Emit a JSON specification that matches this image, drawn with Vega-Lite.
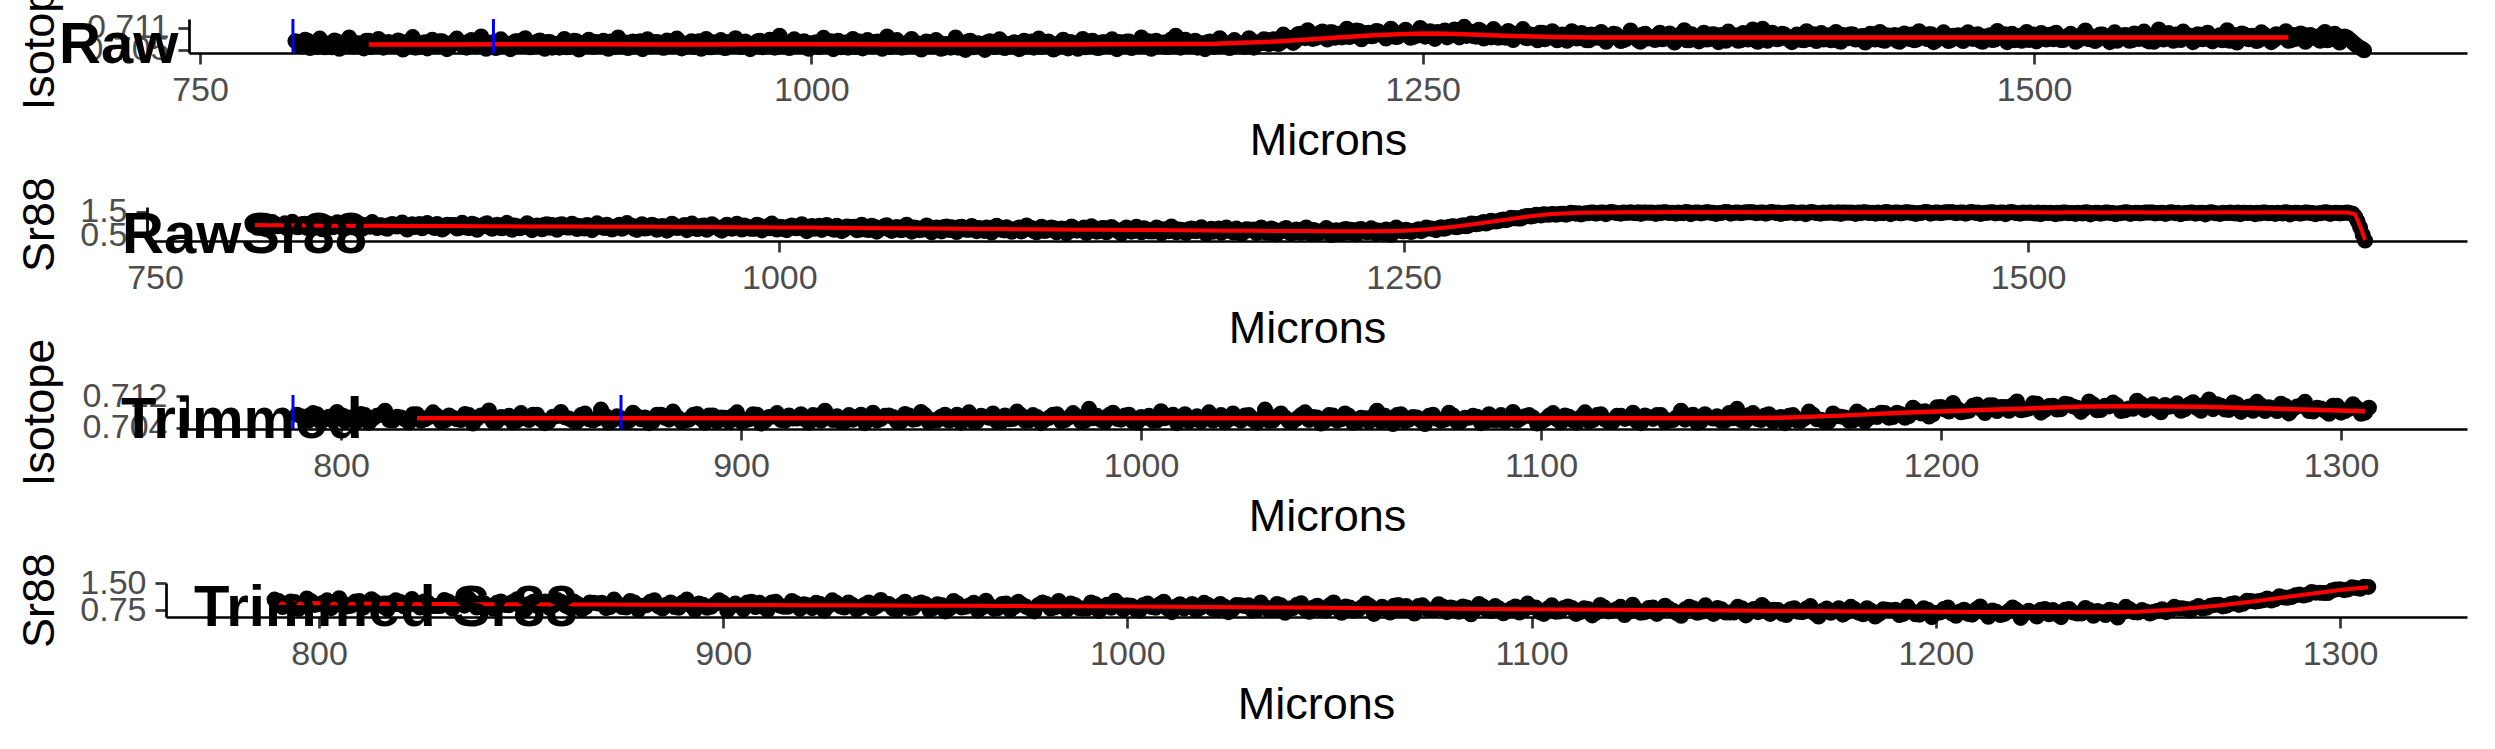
{
"$schema": "https://vega.github.io/schema/vega-lite/v6.json",
"background": "white",
"padding": {"left": 16, "top": -38, "right": 5, "bottom": 5},
"spacing": 154,
"bounds": "flush",
"datasets": {
"pts": [
{"m":789,"iso":0.7073,"sr":1.04},{"m":791,"iso":0.7059,"sr":0.83},{"m":793,"iso":0.7077,"sr":0.99},{"m":795,"iso":0.7054,"sr":0.78},{"m":797,"iso":0.7068,"sr":1.07},{"m":799,"iso":0.7080,"sr":0.89},{"m":801,"iso":0.7056,"sr":0.95},{"m":803,"iso":0.7063,"sr":0.80},{"m":805,"iso":0.7075,"sr":1.08},{"m":807,"iso":0.7052,"sr":0.85},{"m":809,"iso":0.7070,"sr":0.99},{"m":811,"iso":0.7083,"sr":0.82},{"m":813,"iso":0.7058,"sr":1.05},{"m":815,"iso":0.7066,"sr":0.90},{"m":817,"iso":0.7053,"sr":0.77},{"m":819,"iso":0.7074,"sr":1.02},{"m":821,"iso":0.7061,"sr":0.85},{"m":823,"iso":0.7079,"sr":1.06},{"m":825,"iso":0.7055,"sr":0.82},{"m":827,"iso":0.7071,"sr":0.95},
{"m":829,"iso":0.7061,"sr":0.86},{"m":831,"iso":0.7075,"sr":1.03},{"m":833,"iso":0.7050,"sr":0.79},{"m":835,"iso":0.7071,"sr":0.96},{"m":837,"iso":0.7084,"sr":1.07},{"m":839,"iso":0.7056,"sr":0.82},{"m":841,"iso":0.7066,"sr":0.93},{"m":843,"iso":0.7053,"sr":0.79},{"m":845,"iso":0.7077,"sr":0.99},{"m":847,"iso":0.7059,"sr":0.88},{"m":849,"iso":0.7073,"sr":1.05},{"m":851,"iso":0.7051,"sr":0.76},{"m":853,"iso":0.7068,"sr":0.98},{"m":855,"iso":0.7080,"sr":0.91},{"m":857,"iso":0.7063,"sr":0.81},{"m":859,"iso":0.7055,"sr":1.03},{"m":861,"iso":0.7076,"sr":0.87},{"m":863,"iso":0.7058,"sr":0.99},{"m":865,"iso":0.7086,"sr":0.76},{"m":867,"iso":0.7052,"sr":0.96},
{"m":869,"iso":0.7069,"sr":0.93},{"m":871,"iso":0.7054,"sr":0.80},{"m":873,"iso":0.7078,"sr":1.04},{"m":875,"iso":0.7061,"sr":0.83},{"m":877,"iso":0.7051,"sr":1.00},{"m":879,"iso":0.7073,"sr":0.75},{"m":881,"iso":0.7065,"sr":0.88},{"m":883,"iso":0.7081,"sr":1.02},{"m":885,"iso":0.7056,"sr":0.79},{"m":887,"iso":0.7060,"sr":0.96},{"m":889,"iso":0.7075,"sr":0.81},{"m":891,"iso":0.7052,"sr":1.04},{"m":893,"iso":0.7071,"sr":0.75},{"m":895,"iso":0.7066,"sr":0.90},{"m":897,"iso":0.7055,"sr":0.84},{"m":899,"iso":0.7079,"sr":1.02},{"m":901,"iso":0.7058,"sr":0.73},{"m":903,"iso":0.7074,"sr":0.93},{"m":905,"iso":0.7050,"sr":0.77},{"m":907,"iso":0.7067,"sr":0.98},
{"m":909,"iso":0.7077,"sr":0.95},{"m":911,"iso":0.7057,"sr":0.75},{"m":913,"iso":0.7063,"sr":0.98},{"m":915,"iso":0.7074,"sr":0.84},{"m":917,"iso":0.7052,"sr":1.00},{"m":919,"iso":0.7070,"sr":0.78},{"m":921,"iso":0.7083,"sr":0.88},{"m":923,"iso":0.7059,"sr":0.95},{"m":925,"iso":0.7054,"sr":0.73},{"m":927,"iso":0.7072,"sr":1.02},{"m":929,"iso":0.7067,"sr":0.85},{"m":931,"iso":0.7051,"sr":0.96},{"m":933,"iso":0.7078,"sr":0.76},{"m":935,"iso":0.7062,"sr":0.90},{"m":937,"iso":0.7071,"sr":0.79},{"m":939,"iso":0.7055,"sr":1.03},{"m":941,"iso":0.7075,"sr":0.92},{"m":943,"iso":0.7060,"sr":0.74},{"m":945,"iso":0.7080,"sr":0.98},{"m":947,"iso":0.7053,"sr":0.81},
{"m":949,"iso":0.7058,"sr":0.96},{"m":951,"iso":0.7073,"sr":0.75},{"m":953,"iso":0.7066,"sr":0.91},{"m":955,"iso":0.7052,"sr":0.71},{"m":957,"iso":0.7079,"sr":1.00},{"m":959,"iso":0.7056,"sr":0.82},{"m":961,"iso":0.7068,"sr":0.88},{"m":963,"iso":0.7076,"sr":0.73},{"m":965,"iso":0.7054,"sr":1.01},{"m":967,"iso":0.7061,"sr":0.78},{"m":969,"iso":0.7081,"sr":0.92},{"m":971,"iso":0.7057,"sr":0.75},{"m":973,"iso":0.7072,"sr":0.98},{"m":975,"iso":0.7051,"sr":0.84},{"m":977,"iso":0.7065,"sr":0.71},{"m":979,"iso":0.7074,"sr":0.96},{"m":981,"iso":0.7059,"sr":0.79},{"m":983,"iso":0.7077,"sr":1.00},{"m":985,"iso":0.7055,"sr":0.76},{"m":987,"iso":0.7088,"sr":0.89},
{"m":989,"iso":0.7070,"sr":0.79},{"m":991,"iso":0.7054,"sr":0.96},{"m":993,"iso":0.7078,"sr":0.72},{"m":995,"iso":0.7060,"sr":0.90},{"m":997,"iso":0.7073,"sr":1.01},{"m":999,"iso":0.7052,"sr":0.76},{"m":1001,"iso":0.7065,"sr":0.87},{"m":1003,"iso":0.7057,"sr":0.73},{"m":1005,"iso":0.7082,"sr":0.93},{"m":1007,"iso":0.7069,"sr":0.81},{"m":1009,"iso":0.7051,"sr":0.98},{"m":1011,"iso":0.7074,"sr":0.69},{"m":1013,"iso":0.7062,"sr":0.91},{"m":1015,"iso":0.7055,"sr":0.84},{"m":1017,"iso":0.7079,"sr":0.74},{"m":1019,"iso":0.7067,"sr":0.95},{"m":1021,"iso":0.7053,"sr":0.79},{"m":1023,"iso":0.7076,"sr":0.92},{"m":1025,"iso":0.7058,"sr":0.69},{"m":1027,"iso":0.7072,"sr":0.89},
{"m":1029,"iso":0.7052,"sr":0.86},{"m":1031,"iso":0.7086,"sr":0.73},{"m":1033,"iso":0.7058,"sr":0.96},{"m":1035,"iso":0.7076,"sr":0.75},{"m":1037,"iso":0.7055,"sr":0.92},{"m":1039,"iso":0.7063,"sr":0.67},{"m":1041,"iso":0.7079,"sr":0.80},{"m":1043,"iso":0.7067,"sr":0.94},{"m":1045,"iso":0.7050,"sr":0.70},{"m":1047,"iso":0.7072,"sr":0.87},{"m":1049,"iso":0.7058,"sr":0.73},{"m":1051,"iso":0.7076,"sr":0.96},{"m":1053,"iso":0.7052,"sr":0.67},{"m":1055,"iso":0.7065,"sr":0.82},{"m":1057,"iso":0.7055,"sr":0.75},{"m":1059,"iso":0.7083,"sr":0.93},{"m":1061,"iso":0.7070,"sr":0.64},{"m":1063,"iso":0.7049,"sr":0.84},{"m":1065,"iso":0.7074,"sr":0.68},{"m":1067,"iso":0.7060,"sr":0.89},
{"m":1069,"iso":0.7066,"sr":0.86},{"m":1071,"iso":0.7049,"sr":0.65},{"m":1073,"iso":0.7073,"sr":0.88},{"m":1075,"iso":0.7057,"sr":0.75},{"m":1077,"iso":0.7078,"sr":0.91},{"m":1079,"iso":0.7054,"sr":0.69},{"m":1081,"iso":0.7065,"sr":0.79},{"m":1083,"iso":0.7070,"sr":0.85},{"m":1085,"iso":0.7051,"sr":0.63},{"m":1087,"iso":0.7074,"sr":0.92},{"m":1089,"iso":0.7059,"sr":0.75},{"m":1091,"iso":0.7055,"sr":0.86},{"m":1093,"iso":0.7080,"sr":0.66},{"m":1095,"iso":0.7064,"sr":0.79},{"m":1097,"iso":0.7072,"sr":0.68},{"m":1099,"iso":0.7050,"sr":0.93},{"m":1101,"iso":0.7060,"sr":0.82},{"m":1103,"iso":0.7077,"sr":0.64},{"m":1105,"iso":0.7053,"sr":0.88},{"m":1107,"iso":0.7068,"sr":0.71},
{"m":1109,"iso":0.7052,"sr":0.85},{"m":1111,"iso":0.7079,"sr":0.64},{"m":1113,"iso":0.7059,"sr":0.80},{"m":1115,"iso":0.7074,"sr":0.60},{"m":1117,"iso":0.7054,"sr":0.89},{"m":1119,"iso":0.7070,"sr":0.71},{"m":1121,"iso":0.7062,"sr":0.77},{"m":1123,"iso":0.7078,"sr":0.61},{"m":1125,"iso":0.7051,"sr":0.90},{"m":1127,"iso":0.7067,"sr":0.67},{"m":1129,"iso":0.7072,"sr":0.81},{"m":1131,"iso":0.7054,"sr":0.64},{"m":1133,"iso":0.7059,"sr":0.87},{"m":1135,"iso":0.7083,"sr":0.73},{"m":1137,"iso":0.7070,"sr":0.59},{"m":1139,"iso":0.7052,"sr":0.84},{"m":1141,"iso":0.7074,"sr":0.67},{"m":1143,"iso":0.7063,"sr":0.88},{"m":1145,"iso":0.7057,"sr":0.64},{"m":1147,"iso":0.7077,"sr":0.77},
{"m":1149,"iso":0.7088,"sr":0.68},{"m":1151,"iso":0.7055,"sr":0.84},{"m":1153,"iso":0.7077,"sr":0.60},{"m":1155,"iso":0.7059,"sr":0.78},{"m":1157,"iso":0.7074,"sr":0.89},{"m":1159,"iso":0.7065,"sr":0.64},{"m":1161,"iso":0.7051,"sr":0.75},{"m":1163,"iso":0.7072,"sr":0.61},{"m":1165,"iso":0.7057,"sr":0.80},{"m":1167,"iso":0.7081,"sr":0.69},{"m":1169,"iso":0.7061,"sr":0.86},{"m":1171,"iso":0.7054,"sr":0.57},{"m":1173,"iso":0.7076,"sr":0.79},{"m":1175,"iso":0.7068,"sr":0.72},{"m":1177,"iso":0.7057,"sr":0.62},{"m":1179,"iso":0.7081,"sr":0.84},{"m":1181,"iso":0.7055,"sr":0.67},{"m":1183,"iso":0.7070,"sr":0.80},{"m":1185,"iso":0.7078,"sr":0.57},{"m":1187,"iso":0.7065,"sr":0.77},
{"m":1189,"iso":0.7078,"sr":0.74},{"m":1191,"iso":0.7065,"sr":0.61},{"m":1193,"iso":0.7091,"sr":0.85},{"m":1195,"iso":0.7076,"sr":0.63},{"m":1197,"iso":0.7068,"sr":0.80},{"m":1199,"iso":0.7092,"sr":0.55},{"m":1201,"iso":0.7086,"sr":0.68},{"m":1203,"iso":0.7103,"sr":0.82},{"m":1205,"iso":0.7079,"sr":0.59},{"m":1207,"iso":0.7083,"sr":0.76},{"m":1209,"iso":0.7099,"sr":0.62},{"m":1211,"iso":0.7077,"sr":0.85},{"m":1213,"iso":0.7097,"sr":0.56},{"m":1215,"iso":0.7093,"sr":0.70},{"m":1217,"iso":0.7083,"sr":0.64},{"m":1219,"iso":0.7107,"sr":0.82},{"m":1221,"iso":0.7086,"sr":0.53},{"m":1223,"iso":0.7102,"sr":0.73},{"m":1225,"iso":0.7078,"sr":0.57},{"m":1227,"iso":0.7095,"sr":0.78},
{"m":1229,"iso":0.7086,"sr":0.75},{"m":1231,"iso":0.7101,"sr":0.55},{"m":1233,"iso":0.7094,"sr":0.78},{"m":1235,"iso":0.7080,"sr":0.65},{"m":1237,"iso":0.7107,"sr":0.81},{"m":1239,"iso":0.7084,"sr":0.59},{"m":1241,"iso":0.7096,"sr":0.69},{"m":1243,"iso":0.7104,"sr":0.76},{"m":1245,"iso":0.7082,"sr":0.54},{"m":1247,"iso":0.7089,"sr":0.84},{"m":1249,"iso":0.7109,"sr":0.69},{"m":1251,"iso":0.7085,"sr":0.75},{"m":1253,"iso":0.7100,"sr":0.65},{"m":1255,"iso":0.7079,"sr":0.73},{"m":1257,"iso":0.7093,"sr":0.69},{"m":1259,"iso":0.7102,"sr":0.84},{"m":1261,"iso":0.7087,"sr":0.80},{"m":1263,"iso":0.7105,"sr":0.73},{"m":1265,"iso":0.7083,"sr":0.86},{"m":1267,"iso":0.7112,"sr":0.81},
{"m":1269,"iso":0.7100,"sr":0.89},{"m":1271,"iso":0.7086,"sr":0.85},{"m":1273,"iso":0.7104,"sr":0.92},{"m":1275,"iso":0.7080,"sr":0.89},{"m":1277,"iso":0.7094,"sr":1.01},{"m":1279,"iso":0.7106,"sr":0.98},{"m":1281,"iso":0.7082,"sr":1.02},{"m":1283,"iso":0.7089,"sr":1.01},{"m":1285,"iso":0.7101,"sr":1.13},{"m":1287,"iso":0.7076,"sr":1.09},{"m":1289,"iso":0.7094,"sr":1.16},{"m":1291,"iso":0.7106,"sr":1.15},{"m":1293,"iso":0.7081,"sr":1.25},{"m":1295,"iso":0.7089,"sr":1.23},{"m":1297,"iso":0.7075,"sr":1.22},{"m":1299,"iso":0.7096,"sr":1.32},{"m":1301,"iso":0.7082,"sr":1.30},{"m":1303,"iso":0.7100,"sr":1.38},{"m":1305,"iso":0.7075,"sr":1.34},{"m":1307,"iso":0.7091,"sr":1.39},
{"m":1309,"iso":0.7074,"sr":1.40},{"m":1311,"iso":0.7100,"sr":1.37},{"m":1313,"iso":0.7080,"sr":1.42},{"m":1315,"iso":0.7095,"sr":1.38},{"m":1317,"iso":0.7075,"sr":1.46},{"m":1319,"iso":0.7091,"sr":1.42},{"m":1321,"iso":0.7082,"sr":1.39},{"m":1323,"iso":0.7098,"sr":1.44},{"m":1325,"iso":0.7071,"sr":1.47},{"m":1327,"iso":0.7087,"sr":1.42},{"m":1329,"iso":0.7092,"sr":1.47},{"m":1331,"iso":0.7073,"sr":1.40},{"m":1333,"iso":0.7078,"sr":1.49},{"m":1335,"iso":0.7102,"sr":1.45},{"m":1337,"iso":0.7089,"sr":1.42},{"m":1339,"iso":0.7071,"sr":1.46},{"m":1341,"iso":0.7093,"sr":1.48},{"m":1343,"iso":0.7082,"sr":1.44},{"m":1345,"iso":0.7076,"sr":1.41},{"m":1347,"iso":0.7096,"sr":1.47},
{"m":1349,"iso":0.7080,"sr":1.47},{"m":1351,"iso":0.7094,"sr":1.41},{"m":1353,"iso":0.7069,"sr":1.44},{"m":1355,"iso":0.7090,"sr":1.48},{"m":1357,"iso":0.7103,"sr":1.46},{"m":1359,"iso":0.7075,"sr":1.42},{"m":1361,"iso":0.7085,"sr":1.45},{"m":1363,"iso":0.7072,"sr":1.49},{"m":1365,"iso":0.7096,"sr":1.40},{"m":1367,"iso":0.7078,"sr":1.47},{"m":1369,"iso":0.7092,"sr":1.43},{"m":1371,"iso":0.7070,"sr":1.48},{"m":1373,"iso":0.7087,"sr":1.46},{"m":1375,"iso":0.7099,"sr":1.41},{"m":1377,"iso":0.7082,"sr":1.45},{"m":1379,"iso":0.7074,"sr":1.49},{"m":1381,"iso":0.7095,"sr":1.42},{"m":1383,"iso":0.7077,"sr":1.47},{"m":1385,"iso":0.7105,"sr":1.44},{"m":1387,"iso":0.7071,"sr":1.48},
{"m":1389,"iso":0.7107,"sr":1.48},{"m":1391,"iso":0.7074,"sr":1.44},{"m":1393,"iso":0.7096,"sr":1.47},{"m":1395,"iso":0.7078,"sr":1.42},{"m":1397,"iso":0.7093,"sr":1.49},{"m":1399,"iso":0.7084,"sr":1.45},{"m":1401,"iso":0.7070,"sr":1.41},{"m":1403,"iso":0.7091,"sr":1.46},{"m":1405,"iso":0.7076,"sr":1.48},{"m":1407,"iso":0.7100,"sr":1.43},{"m":1409,"iso":0.7080,"sr":1.47},{"m":1411,"iso":0.7073,"sr":1.40},{"m":1413,"iso":0.7095,"sr":1.49},{"m":1415,"iso":0.7087,"sr":1.45},{"m":1417,"iso":0.7075,"sr":1.42},{"m":1419,"iso":0.7098,"sr":1.46},{"m":1421,"iso":0.7071,"sr":1.48},{"m":1423,"iso":0.7085,"sr":1.44},{"m":1425,"iso":0.7092,"sr":1.41},{"m":1427,"iso":0.7077,"sr":1.47},
{"m":1429,"iso":0.7086,"sr":1.47},{"m":1431,"iso":0.7069,"sr":1.41},{"m":1433,"iso":0.7093,"sr":1.44},{"m":1435,"iso":0.7077,"sr":1.48},{"m":1437,"iso":0.7098,"sr":1.46},{"m":1439,"iso":0.7074,"sr":1.42},{"m":1441,"iso":0.7085,"sr":1.45},{"m":1443,"iso":0.7090,"sr":1.49},{"m":1445,"iso":0.7071,"sr":1.40},{"m":1447,"iso":0.7094,"sr":1.47},{"m":1449,"iso":0.7079,"sr":1.43},{"m":1451,"iso":0.7075,"sr":1.48},{"m":1453,"iso":0.7100,"sr":1.46},{"m":1455,"iso":0.7084,"sr":1.41},{"m":1457,"iso":0.7092,"sr":1.45},{"m":1459,"iso":0.7070,"sr":1.49},{"m":1461,"iso":0.7080,"sr":1.42},{"m":1463,"iso":0.7097,"sr":1.47},{"m":1465,"iso":0.7073,"sr":1.44},{"m":1467,"iso":0.7088,"sr":1.48},
{"m":1469,"iso":0.7089,"sr":1.48},{"m":1471,"iso":0.7073,"sr":1.44},{"m":1473,"iso":0.7097,"sr":1.47},{"m":1475,"iso":0.7079,"sr":1.42},{"m":1477,"iso":0.7092,"sr":1.49},{"m":1479,"iso":0.7071,"sr":1.45},{"m":1481,"iso":0.7084,"sr":1.41},{"m":1483,"iso":0.7076,"sr":1.46},{"m":1485,"iso":0.7101,"sr":1.48},{"m":1487,"iso":0.7088,"sr":1.43},{"m":1489,"iso":0.7070,"sr":1.47},{"m":1491,"iso":0.7093,"sr":1.40},{"m":1493,"iso":0.7081,"sr":1.49},{"m":1495,"iso":0.7074,"sr":1.45},{"m":1497,"iso":0.7098,"sr":1.42},{"m":1499,"iso":0.7086,"sr":1.46},{"m":1501,"iso":0.7072,"sr":1.47},{"m":1503,"iso":0.7095,"sr":1.43},{"m":1505,"iso":0.7077,"sr":1.40},{"m":1507,"iso":0.7091,"sr":1.46},
{"m":1509,"iso":0.7096,"sr":1.46},{"m":1511,"iso":0.7076,"sr":1.40},{"m":1513,"iso":0.7082,"sr":1.43},{"m":1515,"iso":0.7093,"sr":1.47},{"m":1517,"iso":0.7071,"sr":1.45},{"m":1519,"iso":0.7089,"sr":1.41},{"m":1521,"iso":0.7102,"sr":1.44},{"m":1523,"iso":0.7078,"sr":1.48},{"m":1525,"iso":0.7073,"sr":1.39},{"m":1527,"iso":0.7091,"sr":1.46},{"m":1529,"iso":0.7086,"sr":1.42},{"m":1531,"iso":0.7070,"sr":1.47},{"m":1533,"iso":0.7097,"sr":1.45},{"m":1535,"iso":0.7081,"sr":1.40},{"m":1537,"iso":0.7090,"sr":1.44},{"m":1539,"iso":0.7074,"sr":1.48},{"m":1541,"iso":0.7094,"sr":1.41},{"m":1543,"iso":0.7079,"sr":1.46},{"m":1545,"iso":0.7099,"sr":1.43},{"m":1547,"iso":0.7072,"sr":1.47},
{"m":1549,"iso":0.7071,"sr":1.47},{"m":1551,"iso":0.7105,"sr":1.43},{"m":1553,"iso":0.7077,"sr":1.46},{"m":1555,"iso":0.7095,"sr":1.41},{"m":1557,"iso":0.7074,"sr":1.48},{"m":1559,"iso":0.7082,"sr":1.44},{"m":1561,"iso":0.7099,"sr":1.40},{"m":1563,"iso":0.7087,"sr":1.45},{"m":1565,"iso":0.7070,"sr":1.47},{"m":1567,"iso":0.7092,"sr":1.42},{"m":1569,"iso":0.7078,"sr":1.46},{"m":1571,"iso":0.7096,"sr":1.39},{"m":1573,"iso":0.7072,"sr":1.48},{"m":1575,"iso":0.7085,"sr":1.44},{"m":1577,"iso":0.7075,"sr":1.41},{"m":1579,"iso":0.7103,"sr":1.45},{"m":1581,"iso":0.7090,"sr":1.47},{"m":1583,"iso":0.7069,"sr":1.43},{"m":1585,"iso":0.7094,"sr":1.40},{"m":1587,"iso":0.7080,"sr":1.46},
{"m":1589,"iso":0.7088,"sr":1.46},{"m":1591,"iso":0.7073,"sr":1.40},{"m":1593,"iso":0.7097,"sr":1.43},{"m":1595,"iso":0.7080,"sr":1.47},{"m":1597,"iso":0.7070,"sr":1.45},{"m":1599,"iso":0.7092,"sr":1.41},{"m":1601,"iso":0.7084,"sr":1.44},{"m":1603,"iso":0.7100,"sr":1.48},{"m":1605,"iso":0.7075,"sr":1.39},{"m":1607,"iso":0.7079,"sr":1.46},{"m":1609,"iso":0.7094,"sr":1.42},{"m":1611,"iso":0.7071,"sr":1.47},{"m":1613,"iso":0.7090,"sr":1.45},{"m":1615,"iso":0.7085,"sr":1.40},{"m":1617,"iso":0.7074,"sr":1.44},{"m":1619,"iso":0.7098,"sr":1.48},{"m":1621,"iso":0.7077,"sr":1.41},{"m":1623,"iso":0.7093,"sr":1.46},{"m":1625,"iso":0.7069,"sr":1.43},{"m":1627,"iso":0.7086,"sr":1.46},
{"m":1629,"iso":0.7078,"sr":1.44},{"m":1631,"iso":0.7066,"sr":1.30},{"m":1633,"iso":0.7056,"sr":0.85},{"m":1635,"iso":0.7048,"sr":0.30},
{"m":790,"iso":0.7069,"sr":1.00},{"m":792,"iso":0.7058,"sr":0.88},{"m":794,"iso":0.7074,"sr":0.97},{"m":796,"iso":0.7062,"sr":0.86},{"m":798,"iso":0.7057,"sr":1.00},{"m":800,"iso":0.7071,"sr":0.91},{"m":802,"iso":0.7066,"sr":1.02},{"m":804,"iso":0.7056,"sr":0.89},{"m":806,"iso":0.7072,"sr":0.94},{"m":808,"iso":0.7063,"sr":0.87},{"m":810,"iso":0.7073,"sr":1.00},{"m":812,"iso":0.7059,"sr":0.91},{"m":814,"iso":0.7068,"sr":0.97},{"m":816,"iso":0.7061,"sr":0.84},{"m":818,"iso":0.7074,"sr":0.95},{"m":820,"iso":0.7057,"sr":0.98},{"m":822,"iso":0.7067,"sr":0.88},{"m":824,"iso":0.7070,"sr":0.91},{"m":826,"iso":0.7058,"sr":0.99},{"m":828,"iso":0.7065,"sr":0.86},
{"m":830,"iso":0.7059,"sr":0.86},{"m":832,"iso":0.7072,"sr":0.99},{"m":834,"iso":0.7062,"sr":0.91},{"m":836,"iso":0.7071,"sr":0.87},{"m":838,"iso":0.7055,"sr":0.97},{"m":840,"iso":0.7067,"sr":0.94},{"m":842,"iso":0.7070,"sr":0.83},{"m":844,"iso":0.7058,"sr":0.95},{"m":846,"iso":0.7064,"sr":0.89},{"m":848,"iso":0.7073,"sr":0.98},{"m":850,"iso":0.7060,"sr":0.85},{"m":852,"iso":0.7056,"sr":0.92},{"m":854,"iso":0.7069,"sr":0.86},{"m":856,"iso":0.7066,"sr":0.99},{"m":858,"iso":0.7057,"sr":0.88},{"m":860,"iso":0.7072,"sr":0.97},{"m":862,"iso":0.7061,"sr":0.82},{"m":864,"iso":0.7063,"sr":0.92},{"m":866,"iso":0.7071,"sr":0.83},{"m":868,"iso":0.7059,"sr":0.95},
{"m":870,"iso":0.7064,"sr":0.95},{"m":872,"iso":0.7057,"sr":0.83},{"m":874,"iso":0.7069,"sr":0.92},{"m":876,"iso":0.7066,"sr":0.82},{"m":878,"iso":0.7056,"sr":0.96},{"m":880,"iso":0.7073,"sr":0.87},{"m":882,"iso":0.7060,"sr":0.98},{"m":884,"iso":0.7067,"sr":0.85},{"m":886,"iso":0.7058,"sr":0.90},{"m":888,"iso":0.7072,"sr":0.83},{"m":890,"iso":0.7062,"sr":0.96},{"m":892,"iso":0.7071,"sr":0.87},{"m":894,"iso":0.7055,"sr":0.93},{"m":896,"iso":0.7065,"sr":0.81},{"m":898,"iso":0.7070,"sr":0.92},{"m":900,"iso":0.7056,"sr":0.95},{"m":902,"iso":0.7061,"sr":0.85},{"m":904,"iso":0.7073,"sr":0.87},{"m":906,"iso":0.7057,"sr":0.96},{"m":908,"iso":0.7068,"sr":0.83},
{"m":910,"iso":0.7059,"sr":0.83},{"m":912,"iso":0.7071,"sr":0.96},{"m":914,"iso":0.7063,"sr":0.87},{"m":916,"iso":0.7061,"sr":0.84},{"m":918,"iso":0.7072,"sr":0.94},{"m":920,"iso":0.7057,"sr":0.91},{"m":922,"iso":0.7066,"sr":0.80},{"m":924,"iso":0.7069,"sr":0.92},{"m":926,"iso":0.7056,"sr":0.86},{"m":928,"iso":0.7060,"sr":0.95},{"m":930,"iso":0.7073,"sr":0.82},{"m":932,"iso":0.7064,"sr":0.89},{"m":934,"iso":0.7058,"sr":0.83},{"m":936,"iso":0.7070,"sr":0.96},{"m":938,"iso":0.7067,"sr":0.85},{"m":940,"iso":0.7055,"sr":0.93},{"m":942,"iso":0.7071,"sr":0.79},{"m":944,"iso":0.7062,"sr":0.89},{"m":946,"iso":0.7072,"sr":0.80},{"m":948,"iso":0.7059,"sr":0.92},
{"m":950,"iso":0.7068,"sr":0.92},{"m":952,"iso":0.7057,"sr":0.80},{"m":954,"iso":0.7073,"sr":0.89},{"m":956,"iso":0.7061,"sr":0.79},{"m":958,"iso":0.7056,"sr":0.93},{"m":960,"iso":0.7070,"sr":0.84},{"m":962,"iso":0.7065,"sr":0.95},{"m":964,"iso":0.7055,"sr":0.81},{"m":966,"iso":0.7071,"sr":0.87},{"m":968,"iso":0.7062,"sr":0.80},{"m":970,"iso":0.7072,"sr":0.93},{"m":972,"iso":0.7058,"sr":0.84},{"m":974,"iso":0.7067,"sr":0.90},{"m":976,"iso":0.7060,"sr":0.78},{"m":978,"iso":0.7073,"sr":0.89},{"m":980,"iso":0.7056,"sr":0.92},{"m":982,"iso":0.7066,"sr":0.82},{"m":984,"iso":0.7069,"sr":0.85},{"m":986,"iso":0.7057,"sr":0.93},{"m":988,"iso":0.7064,"sr":0.80},
{"m":990,"iso":0.7059,"sr":0.79},{"m":992,"iso":0.7072,"sr":0.92},{"m":994,"iso":0.7062,"sr":0.84},{"m":996,"iso":0.7071,"sr":0.81},{"m":998,"iso":0.7055,"sr":0.91},{"m":1000,"iso":0.7067,"sr":0.88},{"m":1002,"iso":0.7070,"sr":0.77},{"m":1004,"iso":0.7058,"sr":0.89},{"m":1006,"iso":0.7064,"sr":0.83},{"m":1008,"iso":0.7073,"sr":0.91},{"m":1010,"iso":0.7060,"sr":0.78},{"m":1012,"iso":0.7056,"sr":0.85},{"m":1014,"iso":0.7069,"sr":0.79},{"m":1016,"iso":0.7066,"sr":0.92},{"m":1018,"iso":0.7057,"sr":0.81},{"m":1020,"iso":0.7072,"sr":0.89},{"m":1022,"iso":0.7061,"sr":0.75},{"m":1024,"iso":0.7063,"sr":0.85},{"m":1026,"iso":0.7071,"sr":0.76},{"m":1028,"iso":0.7059,"sr":0.88},
{"m":1030,"iso":0.7064,"sr":0.88},{"m":1032,"iso":0.7057,"sr":0.75},{"m":1034,"iso":0.7069,"sr":0.84},{"m":1036,"iso":0.7066,"sr":0.74},{"m":1038,"iso":0.7056,"sr":0.88},{"m":1040,"iso":0.7072,"sr":0.79},{"m":1042,"iso":0.7059,"sr":0.90},{"m":1044,"iso":0.7066,"sr":0.77},{"m":1046,"iso":0.7057,"sr":0.82},{"m":1048,"iso":0.7071,"sr":0.75},{"m":1050,"iso":0.7061,"sr":0.88},{"m":1052,"iso":0.7070,"sr":0.79},{"m":1054,"iso":0.7054,"sr":0.85},{"m":1056,"iso":0.7064,"sr":0.73},{"m":1058,"iso":0.7069,"sr":0.83},{"m":1060,"iso":0.7055,"sr":0.86},{"m":1062,"iso":0.7060,"sr":0.76},{"m":1064,"iso":0.7072,"sr":0.79},{"m":1066,"iso":0.7056,"sr":0.87},{"m":1068,"iso":0.7067,"sr":0.74},
{"m":1070,"iso":0.7058,"sr":0.73},{"m":1072,"iso":0.7070,"sr":0.86},{"m":1074,"iso":0.7062,"sr":0.78},{"m":1076,"iso":0.7060,"sr":0.75},{"m":1078,"iso":0.7071,"sr":0.85},{"m":1080,"iso":0.7056,"sr":0.82},{"m":1082,"iso":0.7065,"sr":0.70},{"m":1084,"iso":0.7068,"sr":0.82},{"m":1086,"iso":0.7055,"sr":0.76},{"m":1088,"iso":0.7059,"sr":0.85},{"m":1090,"iso":0.7072,"sr":0.72},{"m":1092,"iso":0.7063,"sr":0.79},{"m":1094,"iso":0.7057,"sr":0.72},{"m":1096,"iso":0.7069,"sr":0.85},{"m":1098,"iso":0.7066,"sr":0.74},{"m":1100,"iso":0.7054,"sr":0.83},{"m":1102,"iso":0.7070,"sr":0.69},{"m":1104,"iso":0.7061,"sr":0.79},{"m":1106,"iso":0.7071,"sr":0.70},{"m":1108,"iso":0.7058,"sr":0.81},
{"m":1110,"iso":0.7067,"sr":0.81},{"m":1112,"iso":0.7056,"sr":0.69},{"m":1114,"iso":0.7072,"sr":0.78},{"m":1116,"iso":0.7060,"sr":0.68},{"m":1118,"iso":0.7055,"sr":0.82},{"m":1120,"iso":0.7070,"sr":0.73},{"m":1122,"iso":0.7065,"sr":0.84},{"m":1124,"iso":0.7055,"sr":0.70},{"m":1126,"iso":0.7071,"sr":0.76},{"m":1128,"iso":0.7062,"sr":0.69},{"m":1130,"iso":0.7072,"sr":0.82},{"m":1132,"iso":0.7058,"sr":0.73},{"m":1134,"iso":0.7067,"sr":0.79},{"m":1136,"iso":0.7060,"sr":0.66},{"m":1138,"iso":0.7073,"sr":0.77},{"m":1140,"iso":0.7056,"sr":0.80},{"m":1142,"iso":0.7066,"sr":0.70},{"m":1144,"iso":0.7069,"sr":0.73},{"m":1146,"iso":0.7057,"sr":0.81},{"m":1148,"iso":0.7064,"sr":0.68},
{"m":1150,"iso":0.7059,"sr":0.68},{"m":1152,"iso":0.7072,"sr":0.80},{"m":1154,"iso":0.7062,"sr":0.72},{"m":1156,"iso":0.7071,"sr":0.69},{"m":1158,"iso":0.7055,"sr":0.79},{"m":1160,"iso":0.7067,"sr":0.76},{"m":1162,"iso":0.7070,"sr":0.65},{"m":1164,"iso":0.7058,"sr":0.77},{"m":1166,"iso":0.7064,"sr":0.70},{"m":1168,"iso":0.7073,"sr":0.79},{"m":1170,"iso":0.7060,"sr":0.66},{"m":1172,"iso":0.7056,"sr":0.73},{"m":1174,"iso":0.7069,"sr":0.67},{"m":1176,"iso":0.7066,"sr":0.80},{"m":1178,"iso":0.7058,"sr":0.69},{"m":1180,"iso":0.7074,"sr":0.77},{"m":1182,"iso":0.7064,"sr":0.63},{"m":1184,"iso":0.7067,"sr":0.73},{"m":1186,"iso":0.7077,"sr":0.64},{"m":1188,"iso":0.7067,"sr":0.76},
{"m":1190,"iso":0.7074,"sr":0.76},{"m":1192,"iso":0.7069,"sr":0.64},{"m":1194,"iso":0.7083,"sr":0.72},{"m":1196,"iso":0.7082,"sr":0.62},{"m":1198,"iso":0.7074,"sr":0.76},{"m":1200,"iso":0.7093,"sr":0.67},{"m":1202,"iso":0.7081,"sr":0.78},{"m":1204,"iso":0.7089,"sr":0.65},{"m":1206,"iso":0.7081,"sr":0.71},{"m":1208,"iso":0.7096,"sr":0.64},{"m":1210,"iso":0.7087,"sr":0.77},{"m":1212,"iso":0.7097,"sr":0.68},{"m":1214,"iso":0.7082,"sr":0.74},{"m":1216,"iso":0.7093,"sr":0.61},{"m":1218,"iso":0.7098,"sr":0.72},{"m":1220,"iso":0.7084,"sr":0.75},{"m":1222,"iso":0.7089,"sr":0.65},{"m":1224,"iso":0.7101,"sr":0.68},{"m":1226,"iso":0.7085,"sr":0.76},{"m":1228,"iso":0.7096,"sr":0.63},
{"m":1230,"iso":0.7087,"sr":0.63},{"m":1232,"iso":0.7099,"sr":0.76},{"m":1234,"iso":0.7091,"sr":0.68},{"m":1236,"iso":0.7089,"sr":0.65},{"m":1238,"iso":0.7100,"sr":0.75},{"m":1240,"iso":0.7085,"sr":0.72},{"m":1242,"iso":0.7094,"sr":0.61},{"m":1244,"iso":0.7097,"sr":0.73},{"m":1246,"iso":0.7084,"sr":0.67},{"m":1248,"iso":0.7088,"sr":0.77},{"m":1250,"iso":0.7101,"sr":0.68},{"m":1252,"iso":0.7092,"sr":0.71},{"m":1254,"iso":0.7086,"sr":0.70},{"m":1256,"iso":0.7098,"sr":0.77},{"m":1258,"iso":0.7095,"sr":0.75},{"m":1260,"iso":0.7083,"sr":0.80},{"m":1262,"iso":0.7099,"sr":0.78},{"m":1264,"iso":0.7090,"sr":0.81},{"m":1266,"iso":0.7100,"sr":0.79},{"m":1268,"iso":0.7087,"sr":0.87},
{"m":1270,"iso":0.7096,"sr":0.90},{"m":1272,"iso":0.7085,"sr":0.87},{"m":1274,"iso":0.7100,"sr":0.94},{"m":1276,"iso":0.7088,"sr":0.92},{"m":1278,"iso":0.7083,"sr":1.00},{"m":1280,"iso":0.7097,"sr":1.00},{"m":1282,"iso":0.7092,"sr":1.07},{"m":1284,"iso":0.7082,"sr":1.05},{"m":1286,"iso":0.7096,"sr":1.10},{"m":1288,"iso":0.7087,"sr":1.11},{"m":1290,"iso":0.7096,"sr":1.18},{"m":1292,"iso":0.7082,"sr":1.18},{"m":1294,"iso":0.7091,"sr":1.23},{"m":1296,"iso":0.7083,"sr":1.22},{"m":1298,"iso":0.7096,"sr":1.29},{"m":1300,"iso":0.7078,"sr":1.33},{"m":1302,"iso":0.7088,"sr":1.32},{"m":1304,"iso":0.7090,"sr":1.36},{"m":1306,"iso":0.7078,"sr":1.40},{"m":1308,"iso":0.7085,"sr":1.37},
{"m":1310,"iso":0.7079,"sr":1.41},{"m":1312,"iso":0.7092,"sr":1.40},{"m":1314,"iso":0.7082,"sr":1.42},{"m":1316,"iso":0.7091,"sr":1.41},{"m":1318,"iso":0.7075,"sr":1.45},{"m":1320,"iso":0.7087,"sr":1.44},{"m":1322,"iso":0.7090,"sr":1.42},{"m":1324,"iso":0.7078,"sr":1.44},{"m":1326,"iso":0.7084,"sr":1.47},{"m":1328,"iso":0.7093,"sr":1.45},{"m":1330,"iso":0.7080,"sr":1.47},{"m":1332,"iso":0.7075,"sr":1.46},{"m":1334,"iso":0.7088,"sr":1.48},{"m":1336,"iso":0.7085,"sr":1.44},{"m":1338,"iso":0.7076,"sr":1.47},{"m":1340,"iso":0.7091,"sr":1.46},{"m":1342,"iso":0.7080,"sr":1.45},{"m":1344,"iso":0.7082,"sr":1.48},{"m":1346,"iso":0.7090,"sr":1.47},{"m":1348,"iso":0.7078,"sr":1.46},
{"m":1350,"iso":0.7083,"sr":1.46},{"m":1352,"iso":0.7076,"sr":1.47},{"m":1354,"iso":0.7088,"sr":1.48},{"m":1356,"iso":0.7085,"sr":1.45},{"m":1358,"iso":0.7075,"sr":1.46},{"m":1360,"iso":0.7092,"sr":1.47},{"m":1362,"iso":0.7079,"sr":1.44},{"m":1364,"iso":0.7086,"sr":1.48},{"m":1366,"iso":0.7077,"sr":1.46},{"m":1368,"iso":0.7091,"sr":1.47},{"m":1370,"iso":0.7081,"sr":1.45},{"m":1372,"iso":0.7090,"sr":1.48},{"m":1374,"iso":0.7074,"sr":1.46},{"m":1376,"iso":0.7084,"sr":1.44},{"m":1378,"iso":0.7089,"sr":1.47},{"m":1380,"iso":0.7075,"sr":1.48},{"m":1382,"iso":0.7080,"sr":1.45},{"m":1384,"iso":0.7092,"sr":1.47},{"m":1386,"iso":0.7076,"sr":1.46},{"m":1388,"iso":0.7087,"sr":1.48},
{"m":1390,"iso":0.7078,"sr":1.48},{"m":1392,"iso":0.7090,"sr":1.46},{"m":1394,"iso":0.7082,"sr":1.47},{"m":1396,"iso":0.7080,"sr":1.45},{"m":1398,"iso":0.7091,"sr":1.48},{"m":1400,"iso":0.7076,"sr":1.47},{"m":1402,"iso":0.7085,"sr":1.44},{"m":1404,"iso":0.7088,"sr":1.46},{"m":1406,"iso":0.7075,"sr":1.48},{"m":1408,"iso":0.7079,"sr":1.45},{"m":1410,"iso":0.7092,"sr":1.47},{"m":1412,"iso":0.7083,"sr":1.46},{"m":1414,"iso":0.7077,"sr":1.48},{"m":1416,"iso":0.7089,"sr":1.44},{"m":1418,"iso":0.7086,"sr":1.47},{"m":1420,"iso":0.7074,"sr":1.46},{"m":1422,"iso":0.7090,"sr":1.45},{"m":1424,"iso":0.7081,"sr":1.48},{"m":1426,"iso":0.7091,"sr":1.47},{"m":1428,"iso":0.7078,"sr":1.46},
{"m":1430,"iso":0.7087,"sr":1.46},{"m":1432,"iso":0.7076,"sr":1.47},{"m":1434,"iso":0.7092,"sr":1.48},{"m":1436,"iso":0.7080,"sr":1.45},{"m":1438,"iso":0.7075,"sr":1.46},{"m":1440,"iso":0.7089,"sr":1.47},{"m":1442,"iso":0.7084,"sr":1.44},{"m":1444,"iso":0.7074,"sr":1.48},{"m":1446,"iso":0.7090,"sr":1.46},{"m":1448,"iso":0.7081,"sr":1.47},{"m":1450,"iso":0.7091,"sr":1.45},{"m":1452,"iso":0.7077,"sr":1.48},{"m":1454,"iso":0.7086,"sr":1.46},{"m":1456,"iso":0.7079,"sr":1.44},{"m":1458,"iso":0.7092,"sr":1.47},{"m":1460,"iso":0.7075,"sr":1.48},{"m":1462,"iso":0.7085,"sr":1.45},{"m":1464,"iso":0.7088,"sr":1.47},{"m":1466,"iso":0.7076,"sr":1.46},{"m":1468,"iso":0.7083,"sr":1.48},
{"m":1470,"iso":0.7078,"sr":1.48},{"m":1472,"iso":0.7091,"sr":1.46},{"m":1474,"iso":0.7081,"sr":1.47},{"m":1476,"iso":0.7090,"sr":1.45},{"m":1478,"iso":0.7074,"sr":1.48},{"m":1480,"iso":0.7086,"sr":1.47},{"m":1482,"iso":0.7089,"sr":1.44},{"m":1484,"iso":0.7077,"sr":1.46},{"m":1486,"iso":0.7083,"sr":1.48},{"m":1488,"iso":0.7092,"sr":1.45},{"m":1490,"iso":0.7079,"sr":1.47},{"m":1492,"iso":0.7075,"sr":1.46},{"m":1494,"iso":0.7088,"sr":1.48},{"m":1496,"iso":0.7085,"sr":1.44},{"m":1498,"iso":0.7076,"sr":1.47},{"m":1500,"iso":0.7091,"sr":1.46},{"m":1502,"iso":0.7080,"sr":1.44},{"m":1504,"iso":0.7082,"sr":1.47},{"m":1506,"iso":0.7090,"sr":1.46},{"m":1508,"iso":0.7078,"sr":1.45},
{"m":1510,"iso":0.7083,"sr":1.45},{"m":1512,"iso":0.7076,"sr":1.46},{"m":1514,"iso":0.7088,"sr":1.47},{"m":1516,"iso":0.7085,"sr":1.44},{"m":1518,"iso":0.7075,"sr":1.45},{"m":1520,"iso":0.7092,"sr":1.46},{"m":1522,"iso":0.7079,"sr":1.43},{"m":1524,"iso":0.7086,"sr":1.47},{"m":1526,"iso":0.7077,"sr":1.45},{"m":1528,"iso":0.7091,"sr":1.46},{"m":1530,"iso":0.7081,"sr":1.44},{"m":1532,"iso":0.7090,"sr":1.47},{"m":1534,"iso":0.7074,"sr":1.45},{"m":1536,"iso":0.7084,"sr":1.43},{"m":1538,"iso":0.7089,"sr":1.46},{"m":1540,"iso":0.7075,"sr":1.47},{"m":1542,"iso":0.7080,"sr":1.44},{"m":1544,"iso":0.7092,"sr":1.46},{"m":1546,"iso":0.7076,"sr":1.45},{"m":1548,"iso":0.7087,"sr":1.47},
{"m":1550,"iso":0.7078,"sr":1.47},{"m":1552,"iso":0.7090,"sr":1.45},{"m":1554,"iso":0.7082,"sr":1.46},{"m":1556,"iso":0.7080,"sr":1.44},{"m":1558,"iso":0.7091,"sr":1.47},{"m":1560,"iso":0.7076,"sr":1.46},{"m":1562,"iso":0.7085,"sr":1.43},{"m":1564,"iso":0.7088,"sr":1.45},{"m":1566,"iso":0.7075,"sr":1.47},{"m":1568,"iso":0.7079,"sr":1.44},{"m":1570,"iso":0.7092,"sr":1.46},{"m":1572,"iso":0.7083,"sr":1.45},{"m":1574,"iso":0.7077,"sr":1.47},{"m":1576,"iso":0.7089,"sr":1.43},{"m":1578,"iso":0.7086,"sr":1.46},{"m":1580,"iso":0.7074,"sr":1.45},{"m":1582,"iso":0.7090,"sr":1.44},{"m":1584,"iso":0.7081,"sr":1.47},{"m":1586,"iso":0.7091,"sr":1.46},{"m":1588,"iso":0.7078,"sr":1.45},
{"m":1590,"iso":0.7087,"sr":1.45},{"m":1592,"iso":0.7076,"sr":1.46},{"m":1594,"iso":0.7092,"sr":1.47},{"m":1596,"iso":0.7080,"sr":1.44},{"m":1598,"iso":0.7075,"sr":1.45},{"m":1600,"iso":0.7089,"sr":1.46},{"m":1602,"iso":0.7084,"sr":1.43},{"m":1604,"iso":0.7074,"sr":1.47},{"m":1606,"iso":0.7090,"sr":1.45},{"m":1608,"iso":0.7081,"sr":1.46},{"m":1610,"iso":0.7091,"sr":1.44},{"m":1612,"iso":0.7077,"sr":1.47},{"m":1614,"iso":0.7086,"sr":1.45},{"m":1616,"iso":0.7079,"sr":1.43},{"m":1618,"iso":0.7092,"sr":1.46},{"m":1620,"iso":0.7075,"sr":1.47},{"m":1622,"iso":0.7085,"sr":1.44},{"m":1624,"iso":0.7088,"sr":1.46},{"m":1626,"iso":0.7076,"sr":1.45},{"m":1628,"iso":0.7083,"sr":1.47},
{"m":1630,"iso":0.7072,"sr":1.42},{"m":1632,"iso":0.7061,"sr":1.10},{"m":1634,"iso":0.7052,"sr":0.55}
],
"isoRaw": [
{"m":819,"iso":0.7064},{"m":850,"iso":0.7064},{"m":900,"iso":0.70645},{"m":950,"iso":0.7064},{"m":1000,"iso":0.70645},{"m":1050,"iso":0.7064},{"m":1100,"iso":0.7064},{"m":1150,"iso":0.7065},{"m":1165,"iso":0.7066},{"m":1179,"iso":0.7069},{"m":1190,"iso":0.7072},{"m":1200,"iso":0.7076},{"m":1215,"iso":0.7083},{"m":1230,"iso":0.7089},{"m":1240,"iso":0.7092},{"m":1250,"iso":0.7094},{"m":1260,"iso":0.7093},{"m":1270,"iso":0.7091},{"m":1286,"iso":0.7087},{"m":1305,"iso":0.7084},{"m":1321,"iso":0.7083},{"m":1400,"iso":0.7083},{"m":1500,"iso":0.7083},{"m":1604,"iso":0.7083}
],
"isoTrim": [
{"m":819,"iso":0.7064},{"m":900,"iso":0.7064},{"m":1000,"iso":0.7064},{"m":1100,"iso":0.70635},{"m":1140,"iso":0.7064},{"m":1160,"iso":0.7065},{"m":1175,"iso":0.70705},{"m":1190,"iso":0.7078},{"m":1210,"iso":0.7085},{"m":1236,"iso":0.7094},{"m":1250,"iso":0.70945},{"m":1265,"iso":0.7093},{"m":1284,"iso":0.7088},{"m":1306,"iso":0.7082}
],
"srLine": [
{"m":790,"sr":0.950},{"m":800,"sr":0.935},{"m":810,"sr":0.930},{"m":820,"sr":0.920},{"m":830,"sr":0.918},{"m":840,"sr":0.912},{"m":850,"sr":0.908},{"m":860,"sr":0.905},{"m":870,"sr":0.902},{"m":880,"sr":0.897},{"m":890,"sr":0.894},{"m":900,"sr":0.889},{"m":910,"sr":0.887},{"m":920,"sr":0.881},{"m":930,"sr":0.879},{"m":940,"sr":0.873},{"m":950,"sr":0.871},{"m":960,"sr":0.865},{"m":970,"sr":0.864},{"m":980,"sr":0.857},{"m":990,"sr":0.855},{"m":1000,"sr":0.849},{"m":1010,"sr":0.843},{"m":1020,"sr":0.833},{"m":1030,"sr":0.828},{"m":1040,"sr":0.817},{"m":1050,"sr":0.811},{"m":1060,"sr":0.800},{"m":1070,"sr":0.796},{"m":1080,"sr":0.784},{"m":1090,"sr":0.780},{"m":1100,"sr":0.769},{"m":1110,"sr":0.765},{"m":1120,"sr":0.755},{"m":1130,"sr":0.751},{"m":1140,"sr":0.741},{"m":1150,"sr":0.737},{"m":1160,"sr":0.726},{"m":1170,"sr":0.722},{"m":1180,"sr":0.712},{"m":1190,"sr":0.709},{"m":1200,"sr":0.699},{"m":1210,"sr":0.698},{"m":1220,"sr":0.692},{"m":1230,"sr":0.692},{"m":1240,"sr":0.688},{"m":1250,"sr":0.705},{"m":1260,"sr":0.770},{"m":1270,"sr":0.875},{"m":1280,"sr":1.010},{"m":1290,"sr":1.160},{"m":1300,"sr":1.305},{"m":1307,"sr":1.385},{"m":1310,"sr":1.410},{"m":1320,"sr":1.455},{"m":1330,"sr":1.474},{"m":1340,"sr":1.483},{"m":1350,"sr":1.478},{"m":1360,"sr":1.486},{"m":1370,"sr":1.480},{"m":1380,"sr":1.487},{"m":1390,"sr":1.479},{"m":1400,"sr":1.486},{"m":1410,"sr":1.480},{"m":1420,"sr":1.487},{"m":1430,"sr":1.479},{"m":1440,"sr":1.485},{"m":1450,"sr":1.478},{"m":1460,"sr":1.485},{"m":1470,"sr":1.477},{"m":1480,"sr":1.484},{"m":1490,"sr":1.476},{"m":1500,"sr":1.482},{"m":1510,"sr":1.474},{"m":1520,"sr":1.481},{"m":1530,"sr":1.473},{"m":1540,"sr":1.480},{"m":1550,"sr":1.472},{"m":1560,"sr":1.479},{"m":1570,"sr":1.471},{"m":1580,"sr":1.478},{"m":1590,"sr":1.470},{"m":1600,"sr":1.477},{"m":1610,"sr":1.469},{"m":1620,"sr":1.475},{"m":1628,"sr":1.468},{"m":1631,"sr":1.40},{"m":1633,"sr":0.90},{"m":1635,"sr":0.32}
],
"blue": [{"m":788},{"m":870}]
},
"vconcat": [
{
"width": 2320, "height": 34,
"title": {"text": "Raw", "dx": -88, "dy": 117},
"layer": [
{"data": {"name": "pts"}, "mark": {"type": "circle", "size": 254, "opacity": 1, "color": "#000000"},
 "encoding": {
 "x": {"field": "m", "type": "quantitative", "scale": {"domain": [745.5, 1677.07], "range": [42, 2320], "nice": false, "zero": false}, "axis": {"title": "Microns", "values": [750, 1000, 1250, 1500], "format": "d", "titleX": 1181, "titleY": 101}},
 "y": {"field": "iso", "type": "quantitative", "scale": {"domain": [0.70406, 0.71333], "nice": false, "zero": false}, "axis": {"title": "Isotope", "values": [0.705, 0.708, 0.711], "format": ".3f", "offset": -42, "titleX": -136, "titleY": 17}}}},
{"data": {"name": "isoRaw"}, "mark": {"type": "line", "color": "#FF0000", "strokeWidth": 4.5},
 "encoding": {
 "x": {"field": "m", "type": "quantitative", "scale": {"domain": [745.5, 1677.07], "range": [42, 2320], "nice": false, "zero": false}},
 "y": {"field": "iso", "type": "quantitative", "scale": {"domain": [0.70406, 0.71333], "nice": false, "zero": false}}}},
{"data": {"name": "blue"}, "mark": {"type": "rule", "color": "#0000FF", "strokeWidth": 3},
 "encoding": {
 "x": {"field": "m", "type": "quantitative", "scale": {"domain": [745.5, 1677.07], "range": [42, 2320], "nice": false, "zero": false}}}}
]
},
{
"width": 2320, "height": 34,
"title": {"text": "RawSr88", "dx": -25, "dy": 92.5},
"layer": [
{"data": {"name": "pts"}, "mark": {"type": "circle", "size": 254, "opacity": 1, "color": "#000000"},
 "encoding": {
 "x": {"field": "m", "type": "quantitative", "scale": {"domain": [746.8, 1675.8], "range": [0, 2320], "nice": false, "zero": false}, "axis": {"title": "Microns", "values": [750, 1000, 1250, 1500], "format": "d", "titleX": 1160, "titleY": 101}},
 "y": {"field": "sr", "type": "quantitative", "scale": {"domain": [0.28, 1.70], "nice": false, "zero": false}, "axis": {"title": "Sr88", "values": [0.5, 1.0, 1.5], "format": ".1f", "offset": 0, "titleX": -94, "titleY": 17}}}},
{"data": {"name": "srLine"}, "mark": {"type": "line", "color": "#FF0000", "strokeWidth": 4},
 "encoding": {
 "x": {"field": "m", "type": "quantitative", "scale": {"domain": [746.8, 1675.8], "range": [0, 2320], "nice": false, "zero": false}},
 "y": {"field": "sr", "type": "quantitative", "scale": {"domain": [0.28, 1.70], "nice": false, "zero": false}}}}
]
},
{
"width": 2320, "height": 34,
"title": {"text": "Trimmed", "dx": -26, "dy": 115.8},
"layer": [
{"data": {"name": "pts"}, "transform": [{"filter": "datum.m <= 1307"}], "mark": {"type": "circle", "size": 254, "opacity": 1, "color": "#000000"},
 "encoding": {
 "x": {"field": "m", "type": "quantitative", "scale": {"domain": [761.5, 1331.5], "range": [40, 2320], "nice": false, "zero": false}, "axis": {"title": "Microns", "values": [800, 900, 1000, 1100, 1200, 1300], "format": "d", "titleX": 1180, "titleY": 101}},
 "y": {"field": "iso", "type": "quantitative", "scale": {"domain": [0.70362, 0.71234], "nice": false, "zero": false}, "axis": {"title": "Isotope", "values": [0.704, 0.706, 0.708, 0.710, 0.712], "format": ".3f", "offset": -40, "titleX": -134, "titleY": 17}}}},
{"data": {"name": "isoTrim"}, "mark": {"type": "line", "color": "#FF0000", "strokeWidth": 4.5},
 "encoding": {
 "x": {"field": "m", "type": "quantitative", "scale": {"domain": [761.5, 1331.5], "range": [40, 2320], "nice": false, "zero": false}},
 "y": {"field": "iso", "type": "quantitative", "scale": {"domain": [0.70362, 0.71234], "nice": false, "zero": false}}}},
{"data": {"name": "blue"}, "mark": {"type": "rule", "color": "#0000FF", "strokeWidth": 3},
 "encoding": {
 "x": {"field": "m", "type": "quantitative", "scale": {"domain": [761.5, 1331.5], "range": [40, 2320], "nice": false, "zero": false}}}}
]
},
{
"width": 2320, "height": 34,
"title": {"text": "Trimmed Sr88", "dx": 47, "dy": 89.5},
"layer": [
{"data": {"name": "pts"}, "transform": [{"filter": "datum.m <= 1307"}], "mark": {"type": "circle", "size": 254, "opacity": 1, "color": "#000000"},
 "encoding": {
 "x": {"field": "m", "type": "quantitative", "scale": {"domain": [762.15, 1331.42], "range": [19, 2320], "nice": false, "zero": false}, "axis": {"title": "Microns", "values": [800, 900, 1000, 1100, 1200, 1300], "format": "d", "titleX": 1169, "titleY": 101}},
 "y": {"field": "sr", "type": "quantitative", "scale": {"domain": [0.556, 1.5], "nice": false, "zero": false}, "axis": {"title": "Sr88", "values": [0.75, 1.0, 1.25, 1.5], "format": ".2f", "offset": -19, "titleX": -113, "titleY": 17}}}},
{"data": {"name": "srLine"}, "transform": [{"filter": "datum.m <= 1307"}], "mark": {"type": "line", "color": "#FF0000", "strokeWidth": 4},
 "encoding": {
 "x": {"field": "m", "type": "quantitative", "scale": {"domain": [762.15, 1331.42], "range": [19, 2320], "nice": false, "zero": false}},
 "y": {"field": "sr", "type": "quantitative", "scale": {"domain": [0.556, 1.5], "nice": false, "zero": false}}}}
]
}
],
"config": {
"view": {"stroke": null},
"axis": {"grid": false, "domainColor": "#000000", "domainWidth": 2.7, "tickColor": "#333333", "tickWidth": 2.7, "tickSize": 11, "labelFont": "Liberation Sans", "labelFontSize": 34, "labelColor": "#4D4D4D", "titleFont": "Liberation Sans", "titleFontSize": 45, "titleFontWeight": "normal", "titleColor": "#000000", "labelOverlap": false, "labelFlush": false, "labelBound": false, "labelPadding": 9},
"axisX": {"titleBaseline": "alphabetic", "titleAlign": "center", "titleAngle": 0},
"axisY": {"titleBaseline": "alphabetic", "titleAlign": "center", "titleAngle": 270},
"title": {"font": "Liberation Sans", "fontSize": 58, "fontWeight": "bold", "color": "#000000", "anchor": "start", "frame": "group", "offset": 0, "baseline": "alphabetic"}
}
}
